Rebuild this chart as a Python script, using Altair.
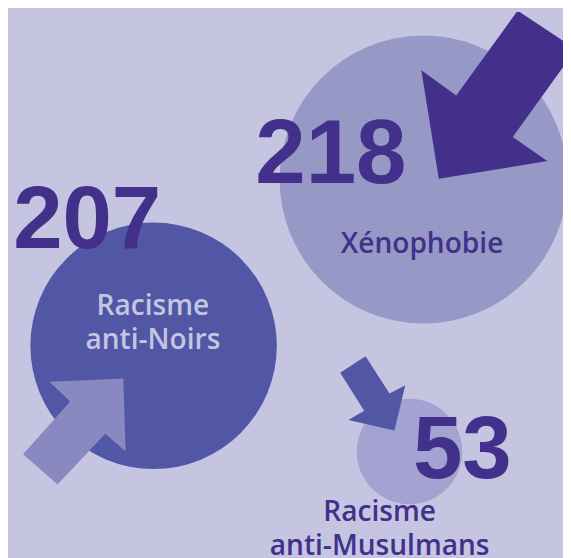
import altair as alt
import pandas as pd

# ---- values -------------------------------------------------------------
categories = ["Xénophobie", "Racisme anti-Noirs", "Racisme anti-Musulmans"]
counts = [218, 207, 53]
label_text = ["Xénophobie", "Racisme\nanti-Noirs", "Racisme\nanti-Musulmans"]

# ---- layout (reference pixel coordinates) --------------------------------
circle_cx = [429.5, 155.7, 415.3]
circle_cy = [178.0, 346.7, 454.0]
circle_r = [146.0, 125.0, 53.5]
circle_color = ["#9698c6", "#5156a5", "#a3a2d0"]

count_x = [335.5, 88.3, 468.8]
count_y = [181.7, 247.5, 480.6]
count_size = [92, 90, 90]
count_color = "#43308a"

label_x = [428.0, 155.0, 385.0]
label_y = [252.7, 315.5, 524.0]
label_color = ["#43308a", "#c5c5e2", "#43308a"]
label_size = 28.5
label_line_height = 34.5

arrow_x = [
    [445.0, 427.3, 462.7, 525.0, 584.0, 520.0, 555.0],
    [125.0, 127.3, 106.7, 58.3, 23.3, 71.0, 50.0],
    [400.0, 353.3, 369.3, 345.0, 370.7, 395.0, 411.0],
]
arrow_y = [
    [177.3, 67.3, 92.7, 6.7, 46.0, 135.0, 159.3],
    [380.0, 454.0, 436.0, 487.3, 456.7, 403.3, 383.3],
    [432.7, 422.0, 412.7, 374.0, 357.3, 395.0, 386.7],
]
arrow_color = ["#43308a", "#8a88c0", "#5156a5"]

BG = "#c5c5e2"
OFFSET = 8  # page margin

# ---- tables ---------------------------------------------------------------
circles_df = pd.DataFrame({
    "cat": categories,
    "x": circle_cx,
    "y": circle_cy,
    "s": [(2 * r) ** 2 for r in circle_r],
    "c": circle_color,
})

counts_df = pd.DataFrame({
    "cat": categories,
    "v": [str(v) for v in counts],
    "x": count_x,
    "y": count_y,
    "fs": count_size,
})

labels_df = pd.DataFrame({
    "cat": categories,
    "t": label_text,
    "x": label_x,
    "y": label_y,
    "c": label_color,
})

features = []
for axs, ays, col in zip(arrow_x, arrow_y, arrow_color):
    ring = [[x, y] for x, y in zip(axs, ays)]
    ring.append(ring[0])
    features.append({
        "type": "Feature",
        "properties": {"color": col},
        "geometry": {"type": "Polygon", "coordinates": [ring]},
    })

W, H = 563, 550
xs = alt.Scale(domain=[OFFSET, OFFSET + W], nice=False, zero=False)
ys = alt.Scale(domain=[OFFSET + H, OFFSET], nice=False, zero=False)

circles = alt.Chart(circles_df).mark_circle(opacity=1, strokeWidth=0).encode(
    x=alt.X("x:Q", scale=xs, axis=None),
    y=alt.Y("y:Q", scale=ys, axis=None),
    size=alt.Size("s:Q", scale=None, legend=None),
    color=alt.Color("c:N", scale=None, legend=None),
)

arrows = alt.Chart(alt.Data(values=features)).mark_geoshape(strokeWidth=0).encode(
    fill=alt.Fill("properties.color:N", scale=None, legend=None),
).project(type="identity", scale=1, translate=[-OFFSET, -OFFSET])

numbers = alt.Chart(counts_df).mark_text(
    font="Liberation Sans", fontWeight="bold", align="center", baseline="alphabetic",
    color=count_color,
).encode(
    x=alt.X("x:Q", scale=xs, axis=None),
    y=alt.Y("y:Q", scale=ys, axis=None),
    text="v:N",
    size=alt.Size("fs:Q", scale=None, legend=None),
)

labels = alt.Chart(labels_df).mark_text(
    font="Open Sans", fontWeight=600, align="center", baseline="alphabetic",
    fontSize=label_size, lineBreak="\n", lineHeight=label_line_height,
).encode(
    x=alt.X("x:Q", scale=xs, axis=None),
    y=alt.Y("y:Q", scale=ys, axis=None),
    text="t:N",
    color=alt.Color("c:N", scale=None, legend=None),
)

chart = alt.layer(circles, arrows, numbers, labels).properties(
    width=W, height=H, padding=0, autosize="none", background=BG,
).configure_view(strokeWidth=0)

chart.save("out.html", embed_options={"renderer": "svg", "actions": False})
